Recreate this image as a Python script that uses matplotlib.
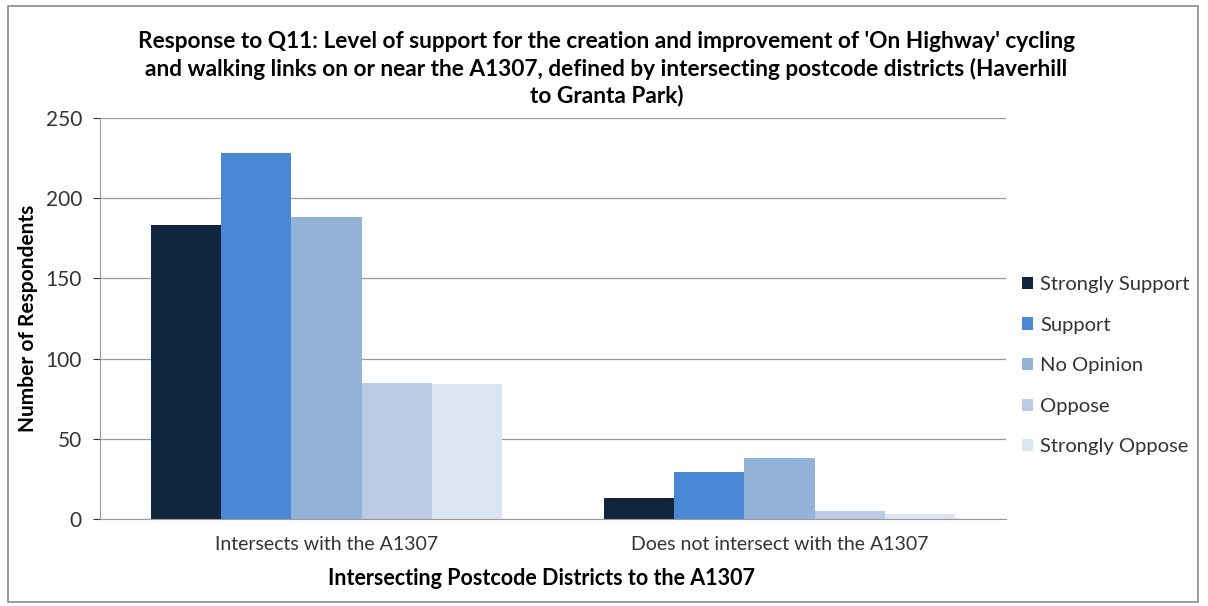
import numpy as np
import matplotlib.pyplot as plt
from matplotlib.patches import Rectangle

plt.rcParams['font.family'] = ['Lato', 'DejaVu Sans']

categories = ['Intersects with the A1307', 'Does not intersect with the A1307']
series = ['Strongly Support', 'Support', 'No Opinion', 'Oppose', 'Strongly Oppose']
strongly_support = [183, 13]
support = [228, 29]
no_opinion = [188, 38]
oppose = [85, 5]
strongly_oppose = [84, 3]
values = [strongly_support, support, no_opinion, oppose, strongly_oppose]
colors = ['#10263f', '#4a88d6', '#93b3d8', '#b9cce4', '#dbe5f1']

fig = plt.figure(figsize=(12.08, 6.06), dpi=100)
ax = fig.add_axes([100 / 1208, 1 - 519 / 606, 906 / 1208, 401 / 606])

x = np.arange(len(categories))
w = 0.155
for i, (name, vals) in enumerate(zip(series, values)):
    ax.bar(x + (i - 2) * w, vals, width=w, color=colors[i], label=name)

ax.set_xlim(-0.5, 1.5)
ax.set_ylim(0, 250)
ax.set_yticks(range(0, 251, 50))
ax.set_xticks(x)
ax.set_xticklabels(categories, fontsize=14, color='#333333')
ax.tick_params(axis='y', labelsize=15, colors='#333333', length=5, direction='out', pad=8)
ax.tick_params(axis='x', length=0, pad=12)
ax.yaxis.grid(True, color='#9a9a9a', linewidth=0.9)
ax.set_axisbelow(True)
for s in ['top', 'right']:
    ax.spines[s].set_visible(False)
ax.spines['left'].set_color('#9a9a9a')
ax.spines['bottom'].set_color('#9a9a9a')

ax.set_ylabel('Number of Respondents', fontsize=15, fontweight='bold')
ax.yaxis.set_label_coords(-62 / 906, 0.5)
ax.set_xlabel('Intersecting Postcode Districts to the A1307', fontsize=15.5,
              fontweight='bold')
ax.xaxis.set_label_coords(0.487, -49 / 401)

fig.text(0.502, 1 - 31 / 606,
         "Response to Q11: Level of support for the creation and improvement of 'On Highway' cycling\n"
         "and walking links on or near the A1307, defined by intersecting postcode districts (Haverhill\n"
         "to Granta Park)",
         ha='center', va='top', fontsize=16.3, fontweight='bold', linespacing=1.3)

leg = ax.legend(loc='upper left', bbox_to_anchor=(1012 / 1208, 1 - 266 / 606),
                bbox_transform=fig.transFigure, frameon=False, fontsize=14.5,
                handlelength=0.55, handleheight=0.55, handletextpad=0.35,
                labelspacing=1.17, borderpad=0)
for t in leg.get_texts():
    t.set_color('#333333')

fig.patches.append(Rectangle((8 / 1208, 4 / 606), 1190 / 1208, 596 / 606,
                             transform=fig.transFigure, fill=False,
                             edgecolor='#8a8a8a', linewidth=1.2))

fig.savefig('out.png', dpi=100)
